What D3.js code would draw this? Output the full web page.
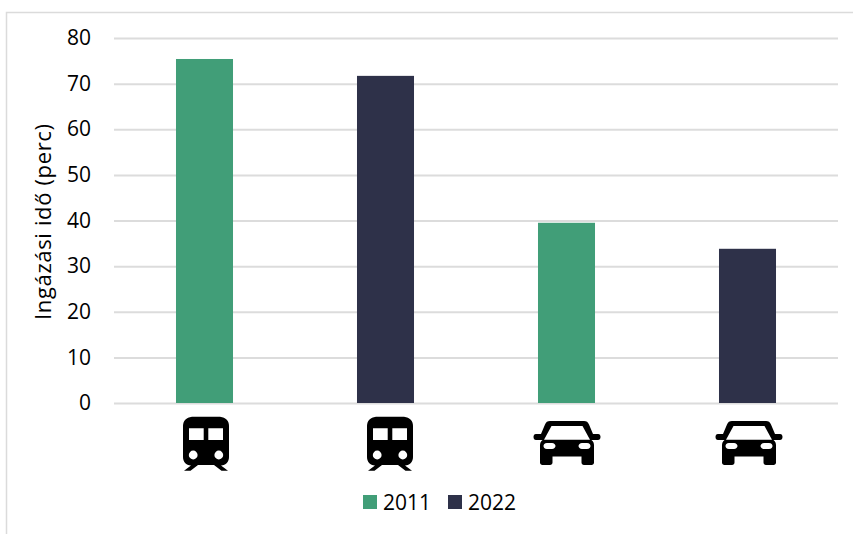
<!DOCTYPE html>
<html><head><meta charset="utf-8">
<script src="https://cdn.jsdelivr.net/npm/d3@7"></script>
<style>html,body{margin:0;padding:0;background:#fff}svg{display:block}text{font-family:"Open Sans",sans-serif;fill:#000}</style>
</head><body><div id="chart"></div>
<script>
const categories = ["Vonat 2011","Vonat 2022","Autó 2011","Autó 2022"];
const years = ["2011","2022","2011","2022"];
const modes = ["train","train","car","car"];
const values = [75.4,71.7,39.5,33.8];
const yTicks = [0,10,20,30,40,50,60,70,80];
const legendYears = ["2011","2022"];
const yTitle = "Ingázási idő (perc)";

const W=853,H=534;
const colour=d3.scaleOrdinal().domain(legendYears).range(["#419E78","#2E3149"]);
const svg=d3.select("#chart").append("svg").attr("width",W).attr("height",H);
const x=d3.scaleBand().domain(categories).range([114,838]).padding(0.685).paddingOuter(0.3425);
const y=d3.scaleLinear().domain([0,80]).range([403,38]);

// outer frame
svg.append("path").attr("d",`M6.5,${H}V12.5H${W}`).attr("fill","none").attr("stroke","#DBDBDB").attr("stroke-width",1.5);

// grid and y labels
const yAxis=d3.axisLeft(y).tickValues(yTicks).tickSize(-724).tickPadding(23);
const gy=svg.append("g").attr("transform","translate(114,0)").call(yAxis);
gy.select(".domain").remove();
gy.selectAll(".tick line").attr("stroke","#DCDCDC").attr("stroke-width",2);
gy.selectAll(".tick text").attr("x",-23).attr("dy","0.32em").attr("font-size",21).attr("fill","#000").style("font-family",'"Open Sans",sans-serif');

// bars
svg.selectAll("rect.bar").data(categories).join("rect").attr("class","bar")
  .attr("x",d=>x(d)).attr("width",x.bandwidth())
  .attr("y",(d,i)=>y(values[i])).attr("height",(d,i)=>y(0)-y(values[i]))
  .attr("fill",(d,i)=>colour(years[i]));

// y title
svg.append("text").attr("transform","translate(51,222) rotate(-90)").attr("text-anchor","middle")
  .attr("font-size",22).attr("textLength",196).attr("lengthAdjust","spacing").text(yTitle);

// icons (origin = icon centre x, top of reference box)
const icons={
 train:"M-14,-1.3H14C20,-0.5 23,3 23,8V39C23,44 20,47 15,47.5L22,52.7H15.5L8,47H-8L-15.5,52.7H-22L-15,47.5C-20,47 -23,44 -23,39V8C-23,3 -20,-0.5 -14,-1.3Z"+
  "M-17,10.3V22H-2.3V10.3ZM2.3,10.3V22H17V10.3Z"+
  "M-8.4,37a4.4,4.4 0 1 0 -8.8,0a4.4,4.4 0 1 0 8.8,0ZM17.2,37a4.4,4.4 0 1 0 -8.8,0a4.4,4.4 0 1 0 8.8,0Z",
 car:"M-17,4.5H17C19.5,4.5 21,5.5 22,8L26,17.5H31C33,17.5 33.5,19 33.5,20.5C33.5,22.5 32.5,23.5 31,23.5H24.5C26.5,25 27,27 27,29V46C27,47.5 26,48.5 24.5,48.5H17C15.5,48.5 14.5,47.5 14.5,46V40H-14.5V46C-14.5,47.5 -15.5,48.5 -17,48.5H-24.5C-26,48.5 -27,47.5 -27,46V29C-27,27 -26.5,25 -24.5,23.5H-31C-32.5,23.5 -33.5,22.5 -33.5,20.5C-33.5,19 -33,17.5 -31,17.5H-26L-22,8C-21,5.5 -19.5,4.5 -17,4.5Z"+
  "M-15.5,9.5L-23,23.3H23L15.5,9.5Z"+
  "M-20,26.5C-22.5,26.5 -23.5,28 -23.5,29.5C-23.5,31 -22.5,32.5 -20,32.5H-15C-13,32.5 -11.5,31 -11.5,29.5C-11.5,28 -13,26.5 -15,26.5ZM15,26.5C13,26.5 11.5,28 11.5,29.5C11.5,31 13,32.5 15,32.5H20C22.5,32.5 23.5,31 23.5,29.5C23.5,28 22.5,26.5 20,26.5Z"
};
const iconDx=[1.5,4.5,0.5,1.5];
svg.selectAll("path.icon").data(categories).join("path").attr("class","icon")
  .attr("d",(d,i)=>icons[modes[i]]).attr("fill","#000").attr("fill-rule","evenodd")
  .attr("transform",(d,i)=>`translate(${x(d)+x.bandwidth()/2+iconDx[i]},${modes[i]==="train"?418:416.5})`);

// legend
const legX=d3.scaleOrdinal().domain(legendYears).range([363,448]);
const lg=svg.selectAll("g.leg").data(legendYears).join("g").attr("class","leg").attr("transform",d=>`translate(${legX(d)},495)`);
lg.append("rect").attr("width",14).attr("height",14).attr("fill",d=>colour(d));
lg.append("text").attr("x",20).attr("y",14.5).attr("font-size",21).text(d=>d);
</script></body></html>
